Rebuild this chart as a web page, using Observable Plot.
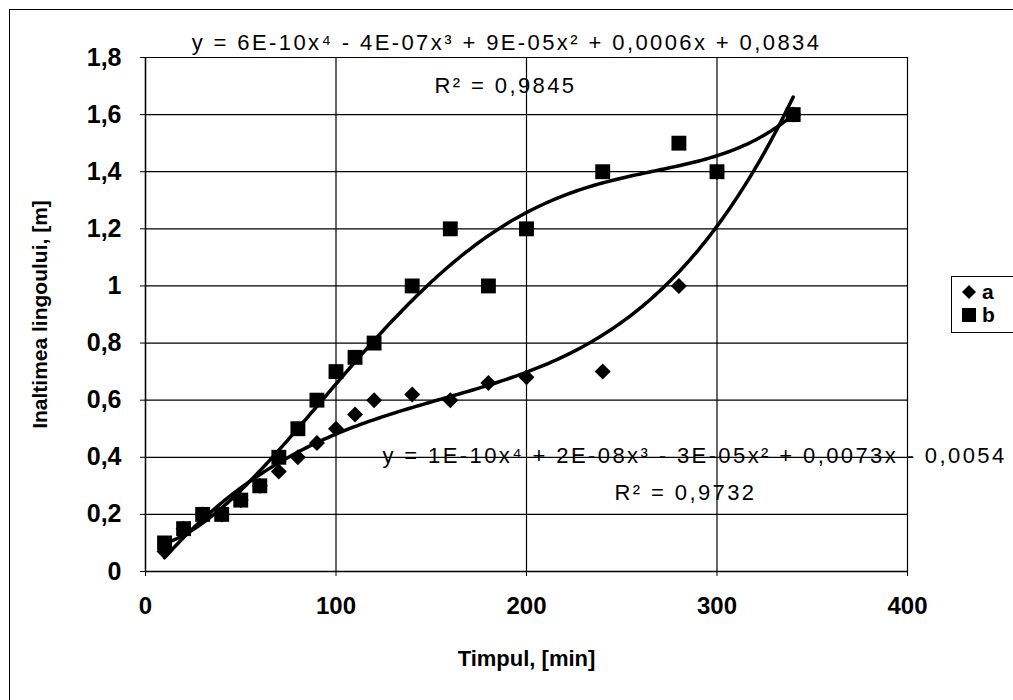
<!DOCTYPE html>
<html>
<head>
<meta charset="utf-8">
<script src="https://cdn.jsdelivr.net/npm/d3@7"></script>
<script src="https://cdn.jsdelivr.net/npm/@observablehq/plot@0.6"></script>
<style>
  html, body { margin: 0; padding: 0; background: #fff; overflow: hidden; }
  body { width: 1013px; height: 700px; position: relative; font-family: "Liberation Sans", Arial, sans-serif; }
  #border { position: absolute; left: 9px; top: 9px; width: 1100px; height: 800px; border: 1px solid #000; box-sizing: border-box; }
  #chart { position: absolute; left: 0; top: 0; }
  #legend { position: absolute; left: 951px; top: 276px; width: 80px; height: 57px; border: 1px solid #000; background: #fff; box-sizing: border-box; font: bold 21px "Liberation Sans", Arial, sans-serif; }
  #legend .row { position: absolute; left: 10px; height: 22px; display: flex; align-items: center; gap: 6px; }
</style>
</head>
<body>
<div id="border"></div>
<div id="chart"></div>
<div id="legend"></div>
<script>
// Time of measurement, [min] and ingot height, [m]
const timeA = [10, 20, 30, 40, 50, 60, 70, 80, 90, 100, 110, 120, 140, 160, 180, 200, 240, 280, 300, 340];
const heightA = [0.07, 0.15, 0.2, 0.2, 0.25, 0.3, 0.35, 0.4, 0.45, 0.5, 0.55, 0.6, 0.62, 0.6, 0.66, 0.68, 0.7, 1.0, 1.4, 1.6];
const timeB = [10, 20, 30, 40, 50, 60, 70, 80, 90, 100, 110, 120, 140, 160, 180, 200, 240, 280, 300, 340];
const heightB = [0.1, 0.15, 0.2, 0.2, 0.25, 0.3, 0.4, 0.5, 0.6, 0.7, 0.75, 0.8, 1.0, 1.2, 1.0, 1.2, 1.4, 1.5, 1.4, 1.6];

const xTicks = [0, 100, 200, 300, 400];
const yTicks = [0, 0.2, 0.4, 0.6, 0.8, 1, 1.2, 1.4, 1.6, 1.8];

const seriesNames = ["a", "b"];
const equationA = "y = 1E-10x⁴ + 2E-08x³ - 3E-05x² + 0,0073x - 0,0054";
const r2A = "R² = 0,9732";
const equationB = "y = 6E-10x⁴ - 4E-07x³ + 9E-05x² + 0,0006x + 0,0834";
const r2B = "R² = 0,9845";

const pointsA = timeA.map((t, i) => ({t, h: heightA[i]}));
const pointsB = timeB.map((t, i) => ({t, h: heightB[i]}));

// Least-squares polynomial trend (order 4), as a spreadsheet trendline computes it
function polyFit(xs, ys, degree) {
  const s = 100; // scale x for conditioning
  const n = degree + 1;
  const A = Array.from({length: n}, () => new Array(n + 1).fill(0));
  xs.forEach((x0, k) => {
    const x = x0 / s;
    for (let i = 0; i < n; i++) {
      for (let j = 0; j < n; j++) A[i][j] += Math.pow(x, i + j);
      A[i][n] += ys[k] * Math.pow(x, i);
    }
  });
  for (let c = 0; c < n; c++) {
    let p = c;
    for (let r = c + 1; r < n; r++) if (Math.abs(A[r][c]) > Math.abs(A[p][c])) p = r;
    [A[c], A[p]] = [A[p], A[c]];
    for (let r = 0; r < n; r++) {
      if (r === c) continue;
      const f = A[r][c] / A[c][c];
      for (let k = c; k <= n; k++) A[r][k] -= f * A[c][k];
    }
  }
  const coef = A.map((row, i) => row[n] / row[i]);
  return x0 => coef.reduce((acc, c, i) => acc + c * Math.pow(x0 / s, i), 0);
}

function trend(xs, ys) {
  const f = polyFit(xs, ys, 4);
  const lo = d3.min(xs), hi = d3.max(xs);
  return d3.range(lo, hi + 0.001, (hi - lo) / 200).map(t => ({t, h: f(t)}));
}
const trendA = trend(timeA, heightA);
const trendB = trend(timeB, heightB);

const comma = d => String(d).replace(".", ",");
const font = '"Liberation Sans", Arial, sans-serif';

const chart = Plot.plot({
  width: 1013,
  height: 700,
  marginLeft: 145,
  marginRight: 106,
  marginTop: 57,
  marginBottom: 129,
  style: {fontFamily: font, background: "transparent", color: "#000", overflow: "visible"},
  x: {domain: [0, 400]},
  y: {domain: [0, 1.8]},
  marks: [
    Plot.gridX(xTicks, {stroke: "#000", strokeOpacity: 1, strokeWidth: 1.2}),
    Plot.gridY(yTicks, {stroke: "#000", strokeOpacity: 1, strokeWidth: 1.2}),
    Plot.ruleX([0], {stroke: "#000", strokeWidth: 1.4}),
    Plot.ruleY([0], {stroke: "#000", strokeWidth: 1.4}),
    Plot.axisX({ticks: xTicks, tickSize: 5, tickPadding: 20, tickFormat: comma, label: null, fontSize: 24, fontWeight: "bold"}),
    Plot.axisY({ticks: yTicks, tickSize: 5, tickPadding: 19, tickFormat: comma, label: null, fontSize: 25, fontWeight: "bold"}),
    Plot.dot(pointsA, {x: "t", y: "h", symbol: "diamond2", r: 7.2, fill: "#000", stroke: "none"}),
    Plot.dot(pointsB, {x: "t", y: "h", symbol: "square", r: 8.4, fill: "#000", stroke: "none"}),
    Plot.line(trendA, {x: "t", y: "h", stroke: "#000", strokeWidth: 3.5}),
    Plot.line(trendB, {x: "t", y: "h", stroke: "#000", strokeWidth: 3.5}),
    // trendline equations
    Plot.text([equationB], {frameAnchor: "top-left", dx: 361, dy: -23, text: d => d, textAnchor: "middle", fontSize: 22, fill: "#000", ariaDescription: "equation"}),
    Plot.text([r2B], {frameAnchor: "top-left", dx: 360, dy: 20, text: d => d, textAnchor: "middle", fontSize: 22, fill: "#000", ariaDescription: "equation"}),
    Plot.text([equationA], {frameAnchor: "top-left", dx: 549, dy: 390, text: d => d, textAnchor: "middle", fontSize: 22, fill: "#000", ariaDescription: "equation"}),
    Plot.text([r2A], {frameAnchor: "top-left", dx: 540, dy: 427, text: d => d, textAnchor: "middle", fontSize: 22, fill: "#000", ariaDescription: "equation"}),
    // axis titles
    Plot.text(["Timpul, [min]"], {frameAnchor: "bottom", dy: 94, text: d => d, textAnchor: "middle", fontSize: 22, fontWeight: "bold", fill: "#000"}),
    Plot.text(["Inaltimea lingoului, [m]"], {frameAnchor: "left", dx: -105, rotate: -90, text: d => d, textAnchor: "middle", fontSize: 21, fontWeight: "bold", fill: "#000"})
  ]
});
d3.select(chart).selectAll('g[aria-description="equation"] text').attr("letter-spacing", 2.4);
document.getElementById("chart").appendChild(chart);

// legend
const legend = document.getElementById("legend");
const symbols = {
  a: '<svg width="14" height="14"><path d="M7,0L14,7L7,14L0,7Z" fill="#000"/></svg>',
  b: '<svg width="14" height="14"><rect width="14" height="14" fill="#000"/></svg>'
};
seriesNames.forEach((name, i) => {
  const row = document.createElement("div");
  row.className = "row";
  row.style.top = (4 + i * 23) + "px";
  row.innerHTML = symbols[name] + "<span>" + name + "</span>";
  legend.appendChild(row);
});
</script>
</body>
</html>
